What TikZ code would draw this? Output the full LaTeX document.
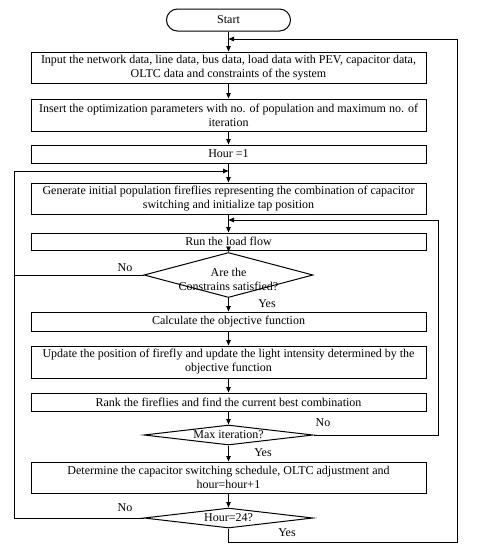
\documentclass[tikz,border=0pt]{standalone}
\usepackage{fontspec}
\setmainfont{Liberation Serif}
\usetikzlibrary{shapes.geometric,arrows.meta}
\begin{document}
\begin{tikzpicture}[x=1pt,y=-1pt,
  txt/.style={font=\fontsize{12}{14}\selectfont},
  box/.style={draw, line width=1pt, minimum width=395pt, align=center, inner sep=1pt, txt},
  dia/.style={draw, line width=1pt, diamond, shape aspect=4, minimum width=169pt, inner sep=0pt},
  conn/.style={line width=0.8pt},
  arr/.style={line width=0.8pt, -{Triangle[length=5.5pt,width=4.5pt]}},
  lab/.style={txt, inner sep=0pt}
]
\useasboundingbox (0,0) rectangle (477,550);
\node[draw, line width=1pt, rounded corners=11pt, minimum width=124pt, minimum height=22pt, txt] (start) at (228.5,20) {Start};
\node[box, minimum height=31pt] (b1) at (228.5,67.5) {Input the network data, line data, bus data, load data with PEV, capacitor data,\\OLTC data and constraints of the system};
\node[box, minimum height=32pt] (b2) at (228.5,115) {Insert the optimization parameters with no. of population and maximum no. of\\iteration};
\node[box, minimum height=18pt] (b3) at (228.5,154) {Hour =1};
\node[box, minimum height=31pt] (b4) at (228.5,198.5) {Generate initial population fireflies representing the combination of capacitor\\switching and initialize tap position};
\node[box, minimum height=17pt] (b5) at (228.5,241.5) {Run the load flow};
\node[dia, minimum height=45pt] (d1) at (228.5,275) {};
\node[lab, align=center, font=\fontsize{12}{14}\selectfont] (d1t) at (228.5,279) {Are the\\Constrains satisfied?};
\node[box, minimum height=19pt] (b6) at (228.5,321.5) {Calculate the objective function};
\node[box, minimum height=32pt] (b7) at (228.5,362) {Update the position of firefly and update the light intensity determined by the\\objective function};
\node[box, minimum height=18pt] (b8) at (228.5,402) {Rank the fireflies and find the current best combination};
\node[dia, minimum height=20pt] (d2) at (228.5,435) {};
\node[lab] (d2t) at (228.5,435) {Max iteration?};
\node[box, minimum height=31pt] (b9) at (228.5,477.5) {Determine the capacitor switching schedule, OLTC adjustment and\\hour=hour+1};
\node[dia, minimum height=20pt] (d3) at (228.5,518) {};
\node[lab] (d3t) at (228.5,518) {Hour=24?};

\coordinate (j0) at (228.5,39);
\coordinate (j1) at (228.5,171);
\coordinate (j2) at (228.5,220);
\coordinate (bl) at (228.5,542);
\coordinate (L) at (14,171);
\coordinate (R1) at (438,220);
\coordinate (R2) at (457,39);

\draw[arr] (start) -- (b1);
\draw[arr] (b1) -- (b2);
\draw[arr] (b2) -- (b3);
\draw[arr] (b3) -- (b4);
\draw[arr] (b4) -- (b5);
\draw[arr] (b5) -- (d1);
\draw[arr] (d1) -- (b6);
\draw[arr] (b6) -- (b7);
\draw[arr] (b7) -- (b8);
\draw[arr] (b8) -- (d2);
\draw[arr] (d2) -- (b9);
\draw[arr] (b9) -- (d3);

\draw[arr] (d1.west) -| (L) -- (j1);
\draw[conn] (d3.west) -| (L);
\draw[arr] (d2.east) -| (R1) -- (j2);
\draw[arr] (d3.south) |- (bl) -| (R2) -- (j0);

\node[lab] (n1) at (125,268) {No};
\node[lab] (y1) at (267,304) {Yes};
\node[lab] (n2) at (323,423) {No};
\node[lab] (y2) at (263,453) {Yes};
\node[lab] (n3) at (125,508) {No};
\node[lab] (y3) at (287,533) {Yes};
\end{tikzpicture}
\end{document}
